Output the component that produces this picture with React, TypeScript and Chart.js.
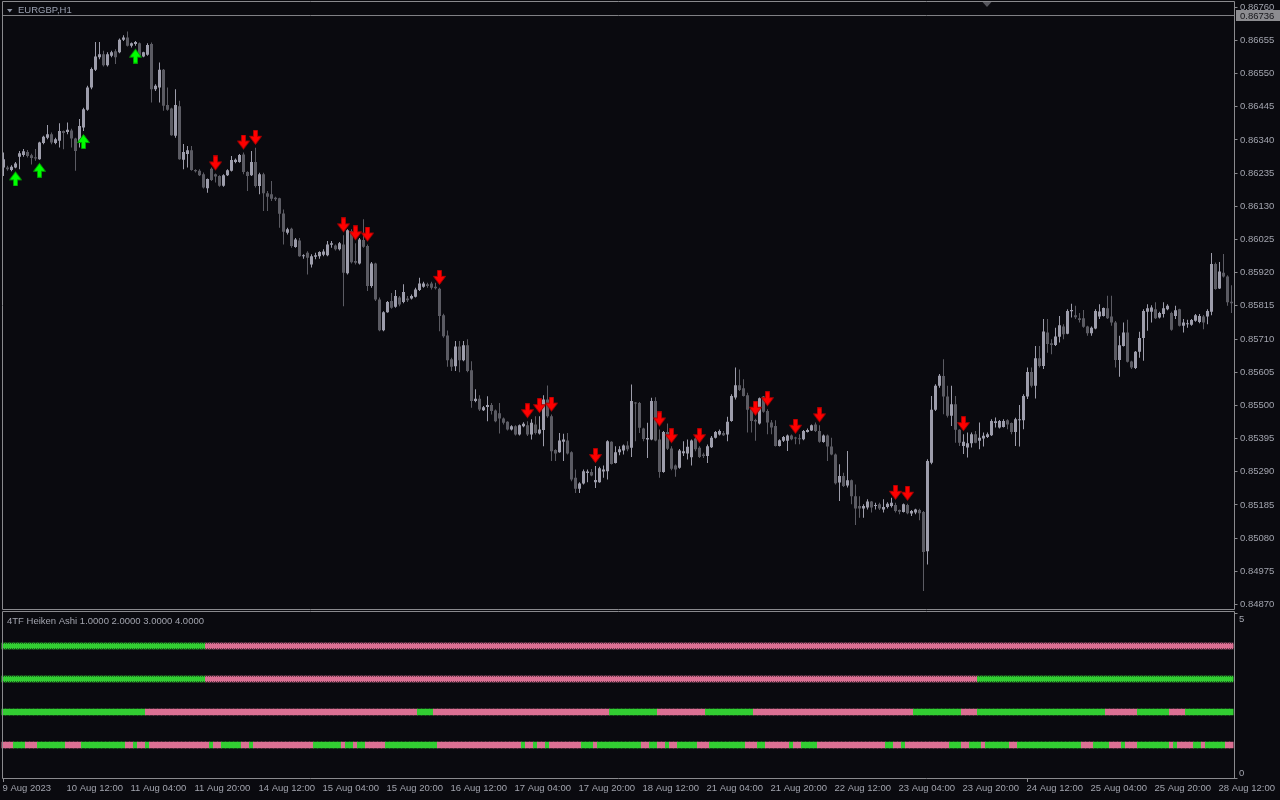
import React, { useEffect, useRef } from 'react';
import { Chart, registerables } from 'chart.js';

Chart.register(...registerables);

// ---------- DATA (prices in points, 1 point = 0.00001) ----------
const opens = [
  86253, 86253, 86245, 86253, 86287, 86292, 86302, 86291, 86285, 86279,
  86330, 86347, 86358, 86330, 86337, 86368, 86365, 86370, 86344, 86332,
  86379, 86435, 86506, 86562, 86601, 86611, 86576, 86606, 86620, 86617,
  86657, 86664, 86638, 86643, 86646, 86604, 86609, 86643, 86500, 86506,
  86562, 86450, 86439, 86353, 86446, 86277, 86295, 86307, 86245, 86242,
  86231, 86187, 86249, 86231, 86226, 86195, 86228, 86242, 86270, 86270,
  86294, 86238, 86228, 86270, 86194, 86231, 86171, 86168, 86157, 86155,
  86107, 86046, 86059, 86001, 86022, 85972, 85983, 85946, 85970, 85972,
  85977, 85975, 86008, 86006, 85994, 86009, 85918, 86052, 85957, 85949,
  86023, 86004, 85878, 85949, 85835, 85738, 85795, 85830, 85812, 85841,
  85827, 85838, 85838, 85844, 85865, 85875, 85883, 85886, 85875, 85869,
  85785, 85721, 85646, 85624, 85686, 85643, 85690, 85611, 85514, 85521,
  85485, 85495, 85501, 85484, 85475, 85459, 85448, 85424, 85434, 85408,
  85434, 85437, 85408, 85440, 85411, 85422, 85519, 85466, 85359, 85352,
  85385, 85389, 85352, 85271, 85236, 85253, 85286, 85289, 85257, 85257,
  85291, 85292, 85385, 85318, 85352, 85357, 85373, 85366, 85508, 85508,
  85427, 85392, 85392, 85514, 85392, 85289, 85416, 85364, 85310, 85303,
  85349, 85348, 85336, 85395, 85366, 85345, 85340, 85368, 85398, 85408,
  85413, 85408, 85451, 85525, 85564, 85554, 85532, 85488, 85454, 85443,
  85528, 85482, 85446, 85435, 85372, 85388, 85388, 85405, 85398, 85396,
  85393, 85416, 85421, 85440, 85419, 85384, 85405, 85370, 85345, 85256,
  85277, 85247, 85263, 85213, 85182, 85174, 85177, 85196, 85182, 85187,
  85171, 85179, 85182, 85185, 85169, 85163, 85185, 85158, 85161, 85169,
  85163, 85039, 85319, 85486, 85562, 85593, 85528, 85467, 85504, 85423,
  85372, 85367, 85380, 85409, 85388, 85395, 85400, 85406, 85444, 85430,
  85432, 85453, 85444, 85416, 85453, 85453, 85528, 85606, 85562, 85649,
  85625, 85731, 85697, 85691, 85717, 85750, 85727, 85798, 85785, 85776,
  85776, 85750, 85728, 85743, 85781, 85783, 85807, 85781, 85762, 85644,
  85688, 85731, 85639, 85618, 85670, 85713, 85796, 85796, 85804, 85778,
  85789, 85804, 85792, 85783, 85804, 85752, 85757, 85755, 85768, 85764,
  85781, 85781, 85796, 85947, 85870, 85920, 85908, 85828,
];
const highs = [
  86300, 86258, 86260, 86270, 86305, 86311, 86308, 86296, 86311, 86334,
  86353, 86387, 86363, 86347, 86393, 86370, 86395, 86375, 86347, 86406,
  86442, 86511, 86569, 86650, 86650, 86622, 86617, 86622, 86627, 86661,
  86671, 86683, 86648, 86653, 86648, 86619, 86646, 86648, 86516, 86585,
  86564, 86506, 86442, 86500, 86464, 86327, 86321, 86321, 86247, 86247,
  86237, 86218, 86253, 86234, 86228, 86231, 86247, 86289, 86281, 86295,
  86300, 86241, 86305, 86315, 86236, 86236, 86178, 86210, 86160, 86157,
  86120, 86062, 86062, 86030, 86030, 85978, 85988, 85978, 85983, 85988,
  85994, 86020, 86020, 86009, 86017, 86038, 86057, 86057, 86013, 86030,
  86089, 86009, 85954, 85951, 85841, 85798, 85830, 85856, 85865, 85846,
  85883, 85846, 85851, 85872, 85904, 85891, 85888, 85891, 85888, 85872,
  85790, 85737, 85651, 85704, 85704, 85704, 85709, 85640, 85551, 85532,
  85498, 85529, 85508, 85487, 85508, 85462, 85450, 85437, 85437, 85440,
  85447, 85450, 85456, 85466, 85466, 85532, 85563, 85471, 85361, 85413,
  85410, 85413, 85355, 85297, 85257, 85297, 85297, 85299, 85308, 85306,
  85310, 85390, 85387, 85371, 85371, 85376, 85387, 85566, 85511, 85511,
  85429, 85445, 85524, 85526, 85424, 85419, 85443, 85371, 85313, 85362,
  85387, 85392, 85392, 85402, 85371, 85350, 85376, 85403, 85419, 85424,
  85419, 85464, 85535, 85620, 85614, 85583, 85540, 85490, 85458, 85525,
  85530, 85488, 85454, 85453, 85393, 85403, 85408, 85408, 85401, 85409,
  85422, 85427, 85440, 85446, 85437, 85408, 85408, 85398, 85348, 85314,
  85287, 85356, 85266, 85250, 85213, 85187, 85203, 85198, 85192, 85192,
  85203, 85194, 85208, 85192, 85171, 85190, 85189, 85169, 85173, 85173,
  85166, 85330, 85530, 85567, 85599, 85646, 85562, 85562, 85530, 85425,
  85409, 85414, 85414, 85419, 85446, 85414, 85414, 85456, 85462, 85454,
  85456, 85456, 85446, 85461, 85501, 85535, 85620, 85620, 85688, 85688,
  85773, 85773, 85709, 85746, 85783, 85757, 85804, 85822, 85815, 85792,
  85802, 85752, 85750, 85804, 85820, 85810, 85847, 85847, 85767, 85720,
  85762, 85771, 85641, 85672, 85733, 85804, 85820, 85817, 85826, 85796,
  85826, 85820, 85796, 85815, 85806, 85773, 85771, 85773, 85789, 85789,
  85786, 85804, 85982, 85952, 85954, 85979, 85912, 85880,
];
const lows = [
  86226, 86242, 86241, 86250, 86247, 86287, 86284, 86262, 86274, 86277,
  86326, 86342, 86326, 86326, 86316, 86310, 86358, 86316, 86242, 86316,
  86368, 86432, 86500, 86558, 86595, 86572, 86572, 86601, 86580, 86614,
  86653, 86635, 86632, 86638, 86604, 86601, 86606, 86458, 86495, 86458,
  86432, 86432, 86353, 86347, 86277, 86247, 86253, 86242, 86237, 86226,
  86186, 86173, 86210, 86205, 86192, 86192, 86226, 86240, 86266, 86268,
  86231, 86178, 86226, 86189, 86168, 86115, 86115, 86147, 86147, 86062,
  86009, 86041, 85999, 85999, 85970, 85964, 85914, 85936, 85962, 85964,
  85972, 85972, 85999, 85990, 85990, 85814, 85914, 85949, 85946, 85946,
  85999, 85862, 85872, 85830, 85735, 85735, 85793, 85806, 85809, 85814,
  85823, 85827, 85835, 85841, 85862, 85872, 85872, 85867, 85867, 85735,
  85714, 85622, 85609, 85609, 85605, 85640, 85605, 85493, 85510, 85482,
  85482, 85450, 85471, 85447, 85411, 85440, 85421, 85421, 85405, 85405,
  85431, 85403, 85392, 85408, 85408, 85371, 85461, 85324, 85324, 85350,
  85324, 85345, 85260, 85223, 85223, 85250, 85257, 85276, 85239, 85255,
  85271, 85266, 85313, 85316, 85342, 85345, 85355, 85337, 85387, 85413,
  85387, 85334, 85390, 85387, 85271, 85287, 85359, 85295, 85274, 85300,
  85340, 85329, 85310, 85355, 85334, 85334, 85318, 85365, 85395, 85405,
  85403, 85387, 85448, 85519, 85546, 85528, 85414, 85414, 85388, 85440,
  85477, 85409, 85409, 85370, 85370, 85384, 85356, 85390, 85377, 85377,
  85390, 85414, 85419, 85416, 85382, 85382, 85324, 85342, 85250, 85198,
  85242, 85240, 85187, 85122, 85145, 85145, 85171, 85161, 85171, 85169,
  85161, 85174, 85177, 85161, 85156, 85161, 85156, 85150, 85156, 85137,
  84913, 84997, 85314, 85482, 85556, 85472, 85462, 85435, 85382, 85372,
  85346, 85335, 85367, 85380, 85361, 85370, 85397, 85403, 85430, 85427,
  85430, 85425, 85409, 85372, 85370, 85425, 85520, 85557, 85522, 85620,
  85615, 85667, 85662, 85688, 85699, 85709, 85725, 85778, 85773, 85762,
  85746, 85720, 85720, 85741, 85773, 85781, 85773, 85752, 85620, 85591,
  85686, 85636, 85615, 85615, 85651, 85641, 85736, 85762, 85773, 85775,
  85778, 85801, 85736, 85773, 85750, 85731, 85746, 85752, 85765, 85760,
  85741, 85757, 85785, 85866, 85868, 85905, 85815, 85792,
];
const closes = [
  86279, 86247, 86255, 86265, 86298, 86304, 86289, 86283, 86281, 86332,
  86350, 86358, 86332, 86342, 86368, 86362, 86372, 86344, 86305, 86384,
  86437, 86506, 86564, 86604, 86611, 86576, 86611, 86617, 86601, 86657,
  86664, 86638, 86646, 86650, 86606, 86617, 86640, 86500, 86511, 86562,
  86448, 86435, 86355, 86450, 86279, 86302, 86307, 86245, 86241, 86228,
  86189, 86216, 86213, 86224, 86195, 86228, 86244, 86276, 86277, 86292,
  86238, 86226, 86270, 86194, 86231, 86171, 86160, 86154, 86152, 86106,
  86049, 86057, 86004, 86025, 85972, 85975, 85967, 85972, 85975, 85985,
  85987, 86009, 86013, 85994, 86013, 85920, 86054, 85953, 85951, 86025,
  86002, 85878, 85949, 85835, 85738, 85795, 85827, 85809, 85846, 85819,
  85859, 85833, 85846, 85867, 85886, 85886, 85878, 85872, 85871, 85783,
  85719, 85643, 85622, 85686, 85643, 85690, 85609, 85514, 85521, 85487,
  85494, 85501, 85482, 85450, 85459, 85445, 85424, 85434, 85408, 85437,
  85442, 85408, 85445, 85413, 85424, 85519, 85466, 85355, 85348, 85389,
  85392, 85348, 85266, 85236, 85253, 85292, 85291, 85278, 85264, 85301,
  85297, 85387, 85315, 85352, 85361, 85373, 85361, 85514, 85506, 85429,
  85394, 85397, 85514, 85389, 85289, 85416, 85363, 85300, 85297, 85357,
  85355, 85369, 85389, 85361, 85337, 85340, 85371, 85398, 85416, 85419,
  85406, 85448, 85530, 85564, 85549, 85530, 85486, 85451, 85449, 85523,
  85480, 85446, 85430, 85372, 85390, 85400, 85405, 85393, 85395, 85393,
  85419, 85422, 85437, 85419, 85385, 85405, 85370, 85345, 85254, 85277,
  85245, 85263, 85213, 85174, 85174, 85182, 85196, 85177, 85185, 85174,
  85179, 85189, 85192, 85166, 85164, 85187, 85159, 85166, 85171, 85159,
  85036, 85324, 85486, 85562, 85594, 85528, 85467, 85504, 85423, 85382,
  85385, 85380, 85409, 85382, 85398, 85404, 85409, 85451, 85450, 85451,
  85451, 85440, 85416, 85456, 85456, 85530, 85606, 85562, 85649, 85625,
  85734, 85694, 85691, 85718, 85754, 85725, 85799, 85802, 85779, 85770,
  85749, 85728, 85746, 85799, 85797, 85808, 85776, 85762, 85644, 85690,
  85731, 85638, 85620, 85670, 85713, 85799, 85807, 85810, 85776, 85792,
  85807, 85815, 85739, 85801, 85752, 85762, 85760, 85770, 85785, 85783,
  85762, 85799, 85947, 85868, 85924, 85908, 85826, 85823,
];

// time axis labels, one every 16 hourly bars
const timeLabels = [
  '9 Aug 2023', '10 Aug 12:00', '11 Aug 04:00', '11 Aug 20:00', '14 Aug 12:00',
  '15 Aug 04:00', '15 Aug 20:00', '16 Aug 12:00', '17 Aug 04:00', '17 Aug 20:00',
  '18 Aug 12:00', '21 Aug 04:00', '21 Aug 20:00', '22 Aug 12:00', '23 Aug 04:00',
  '23 Aug 20:00', '24 Aug 12:00', '25 Aug 04:00', '25 Aug 20:00', '28 Aug 12:00',
];
const LABEL_EVERY = 16;

const priceTicks = [
  86760, 86655, 86550, 86445, 86340, 86235, 86130, 86025, 85920, 85815,
  85710, 85605, 85500, 85395, 85290, 85185, 85080, 84975, 84870,
];
const bidPrice = 86736;
const Y_MIN = 84856;
const Y_MAX = 86773;

const upArrowBars = [3, 9, 20, 33];
const downArrowBars = [53, 60, 63, 85, 88, 91, 109, 131, 134, 137, 148, 164, 167, 174, 188, 191, 198, 204, 223, 226, 240];

// 4TF Heiken Ashi rows: level and colour runs [startBar, g|p]
const rowLevels = [4, 3, 2, 1];
const rowRunsA = [[0, 'g'], [51, 'p']];
const rowRunsB = [[0, 'g'], [51, 'p'], [244, 'g']];
const rowRunsC = [[0, 'g'], [36, 'p'], [104, 'g'], [108, 'p'], [152, 'g'], [164, 'p'], [176, 'g'], [188, 'p'], [228, 'g'], [240, 'p'], [244, 'g'], [276, 'p'], [284, 'g'], [292, 'p'], [296, 'g']];
const rowRunsD = [[0, 'p'], [3, 'g'], [6, 'p'], [9, 'g'], [16, 'p'], [20, 'g'], [31, 'p'], [33, 'g'], [34, 'p'], [36, 'g'], [37, 'p'], [52, 'g'], [53, 'p'], [55, 'g'], [60, 'p'], [62, 'g'], [63, 'p'], [78, 'g'], [85, 'p'], [86, 'g'], [88, 'p'], [89, 'g'], [91, 'p'], [96, 'g'], [109, 'p'], [130, 'g'], [131, 'p'], [133, 'g'], [134, 'p'], [136, 'g'], [137, 'p'], [145, 'g'], [148, 'p'], [149, 'g'], [160, 'p'], [162, 'g'], [164, 'p'], [166, 'g'], [167, 'p'], [169, 'g'], [174, 'p'], [177, 'g'], [186, 'p'], [189, 'g'], [191, 'p'], [197, 'g'], [198, 'p'], [200, 'g'], [204, 'p'], [221, 'g'], [223, 'p'], [225, 'g'], [226, 'p'], [237, 'g'], [240, 'p'], [242, 'g'], [245, 'p'], [246, 'g'], [252, 'p'], [254, 'g'], [270, 'p'], [273, 'g'], [277, 'p'], [280, 'g'], [281, 'p'], [284, 'g'], [292, 'p'], [293, 'g'], [294, 'p'], [298, 'g'], [300, 'p'], [301, 'g'], [306, 'p']];

// ---------- STYLE ----------
const BG = '#0a0a0f';
const FRAME = '#8a8a8e';
const TEXT = '#a2a4ae';
const BULL = '#9d9dab';
const BEAR = '#5b5b63';
const GREEN = '#32cd32';
const PINK = '#db7093';
const FONT_FAMILY = '"Liberation Sans", Arial, sans-serif';
const FONT_SIZE = 9.5;
const FONT_CSS = `${FONT_SIZE}px ${FONT_FAMILY}`;

function expandRuns(runs: any[], n: number): string[] {
  const out: string[] = new Array(n);
  for (let r = 0; r < runs.length; r++) {
    const start = runs[r][0];
    const end = r + 1 < runs.length ? runs[r + 1][0] : n;
    const col = runs[r][1] === 'g' ? GREEN : PINK;
    for (let i = start; i < end; i++) out[i] = col;
  }
  return out;
}

// arrow glyph image; the glyph sits 3px above (down) or below (up) the image centre
function makeArrow(fill: string, edge: string, down: boolean) {
  const c = document.createElement('canvas');
  c.width = 13;
  c.height = 36;
  const g = c.getContext('2d') as CanvasRenderingContext2D;
  g.fillStyle = fill;
  g.strokeStyle = edge;
  g.lineWidth = 1;
  g.beginPath();
  if (down) {
    // spans y 0.5 .. 14.5 (centre at 18)
    g.moveTo(4.5, 0.5); g.lineTo(8.5, 0.5); g.lineTo(8.5, 6.5); g.lineTo(12.5, 6.5);
    g.lineTo(6.5, 14.5); g.lineTo(0.5, 6.5); g.lineTo(4.5, 6.5);
  } else {
    // spans y 21.5 .. 35.5
    g.moveTo(6.5, 21.5); g.lineTo(12.5, 29.5); g.lineTo(8.5, 29.5); g.lineTo(8.5, 35.5);
    g.lineTo(4.5, 35.5); g.lineTo(4.5, 29.5); g.lineTo(0.5, 29.5);
  }
  g.closePath();
  g.fill();
  g.stroke();
  return c;
}

function fixVertical(width: number) {
  return (s: any) => {
    s.width = width;
    s.paddingTop = 0;
    s.paddingBottom = 0;
    s.paddingLeft = 0;
    s.paddingRight = 0;
  };
}

const mainOverlay = {
  id: 'mainOverlay',
  beforeDraw(chart: any) {
    const { ctx, width, height } = chart;
    ctx.save();
    ctx.fillStyle = BG;
    ctx.fillRect(0, 0, width, height);
    ctx.restore();
  },
  afterDraw(chart: any) {
    const { ctx } = chart;
    const y = chart.scales.y;
    ctx.save();
    // bid line
    const by = Math.round(y.getPixelForValue(bidPrice)) + 0.5;
    ctx.strokeStyle = '#808084';
    ctx.lineWidth = 1;
    ctx.beginPath();
    ctx.moveTo(2.5, by);
    ctx.lineTo(1234.5, by);
    ctx.stroke();
    // frame
    ctx.strokeStyle = FRAME;
    ctx.beginPath();
    ctx.moveTo(2.5, 609.5);
    ctx.lineTo(2.5, 1.5);
    ctx.lineTo(1234.5, 1.5);
    ctx.lineTo(1234.5, 609.5);
    ctx.lineTo(2.5, 609.5);
    ctx.stroke();
    // bid label box
    ctx.fillStyle = '#8c8c90';
    ctx.fillRect(1236, by - 5.5, 44, 11);
    ctx.fillStyle = '#16161a';
    ctx.font = FONT_CSS;
    ctx.textBaseline = 'middle';
    ctx.textAlign = 'left';
    ctx.fillText((bidPrice / 100000).toFixed(5), 1240, by + 0.5);
    // header
    ctx.fillStyle = '#8e94a4';
    ctx.beginPath();
    ctx.moveTo(7, 9);
    ctx.lineTo(12.5, 9);
    ctx.lineTo(9.75, 12.5);
    ctx.closePath();
    ctx.fill();
    ctx.fillStyle = '#9aa0b0';
    ctx.fillText('EURGBP,H1', 18, 10.5);
    // chart shift marker
    ctx.fillStyle = '#55555c';
    ctx.beginPath();
    ctx.moveTo(982.5, 2);
    ctx.lineTo(991.5, 2);
    ctx.lineTo(987, 7);
    ctx.closePath();
    ctx.fill();
    ctx.restore();
  },
};

const subOverlay = {
  id: 'subOverlay',
  beforeDraw(chart: any) {
    const { ctx, width, height } = chart;
    ctx.save();
    ctx.fillStyle = BG;
    ctx.fillRect(0, 0, width, height);
    ctx.restore();
  },
  afterDatasetsDraw(chart: any) {
    const { ctx } = chart;
    const y = chart.scales.y;
    ctx.save();
    ctx.strokeStyle = 'rgba(10,10,15,0.55)';
    ctx.lineWidth = 1;
    ctx.setLineDash([1, 1]);
    [rowLevels[0], rowLevels[1]].forEach((lvl) => {
      const t = Math.round(y.getPixelForValue(lvl + 0.1)) + 0.5;
      const b = Math.round(y.getPixelForValue(lvl - 0.1)) - 0.5;
      ctx.beginPath();
      ctx.moveTo(3, t); ctx.lineTo(1234, t);
      ctx.moveTo(3, b); ctx.lineTo(1234, b);
      ctx.stroke();
    });
    ctx.restore();
  },
  afterDraw(chart: any) {
    const { ctx } = chart;
    const y = chart.scales.y;
    ctx.save();
    ctx.strokeStyle = FRAME;
    ctx.lineWidth = 1;
    ctx.beginPath();
    ctx.moveTo(2.5, 168.5);
    ctx.lineTo(2.5, 1.5);
    ctx.lineTo(1234.5, 1.5);
    ctx.lineTo(1234.5, 168.5);
    ctx.lineTo(2.5, 168.5);
    ctx.stroke();
    ctx.font = FONT_CSS;
    ctx.fillStyle = TEXT;
    ctx.textBaseline = 'middle';
    ctx.textAlign = 'left';
    ctx.fillText('4TF Heiken Ashi 1.0000 2.0000 3.0000 4.0000', 7, 11);
    ctx.fillText('5', 1239, y.getPixelForValue(5) + 6);
    ctx.fillText('0', 1239, y.getPixelForValue(0) - 5);
    ctx.restore();
  },
};

export default function App() {
  const mainRef = useRef<HTMLCanvasElement>(null);
  const subRef = useRef<HTMLCanvasElement>(null);

  useEffect(() => {
    const n = opens.length;
    const labels = opens.map((_, i) => String(i));
    const candleColors = opens.map((o, i) => (closes[i] >= o ? BULL : BEAR));
    const downArrow = makeArrow('#ff0000', '#b00000', true);
    const upArrow = makeArrow('#00ff00', '#00a000', false);
    const downData = labels.map((_, i) => (downArrowBars.includes(i) ? highs[i] : null));
    const upData = labels.map((_, i) => (upArrowBars.includes(i) ? lows[i] : null));

    const mainChart = new Chart(mainRef.current as HTMLCanvasElement, {
      type: 'bar',
      data: {
        labels,
        datasets: [
          {
            type: 'bar',
            data: lows.map((l, i) => [l, highs[i]]),
            backgroundColor: candleColors,
            barThickness: 1,
            minBarLength: 1,
            grouped: false,
            inflateAmount: 0,
            borderWidth: 0,
            order: 3,
          } as any,
          {
            type: 'bar',
            data: opens.map((o, i) => [o, closes[i]]),
            backgroundColor: candleColors,
            barThickness: 3,
            minBarLength: 1,
            grouped: false,
            inflateAmount: 0,
            borderWidth: 0,
            order: 2,
          } as any,
          {
            type: 'line',
            data: downData,
            showLine: false,
            pointStyle: downArrow,
            pointRadius: 6,
            pointHoverRadius: 6,
            clip: false,
            order: 1,
          } as any,
          {
            type: 'line',
            data: upData,
            showLine: false,
            pointStyle: upArrow,
            pointRadius: 6,
            pointHoverRadius: 6,
            clip: false,
            order: 1,
          } as any,
        ],
      },
      options: {
        responsive: false,
        maintainAspectRatio: false,
        animation: false,
        devicePixelRatio: 1,
        events: [],
        layout: { autoPadding: false, padding: { left: 1.5, right: 0, top: 3, bottom: 3 } },
        plugins: { legend: { display: false }, tooltip: { enabled: false } },
        scales: {
          x: { type: 'category', display: false, offset: true },
          y: {
            type: 'linear',
            position: 'right',
            min: Y_MIN,
            max: Y_MAX,
            bounds: 'data',
            afterFit: fixVertical(46.5),
            afterBuildTicks: (s: any) => { s.ticks = priceTicks.map((v) => ({ value: v })); },
            ticks: {
              autoSkip: false,
              padding: 2.5,
              color: TEXT,
              font: { family: FONT_FAMILY, size: FONT_SIZE },
              callback: (v: any) => (Number(v) / 100000).toFixed(5),
            },
            grid: { drawOnChartArea: false, tickLength: 4, color: FRAME },
            border: { display: false },
          },
        },
      } as any,
      plugins: [mainOverlay],
    });

    const rowColors = [rowRunsA, rowRunsB, rowRunsC, rowRunsD].map((r) => expandRuns(r, n));
    const subChart = new Chart(subRef.current as HTMLCanvasElement, {
      type: 'bar',
      data: {
        labels,
        datasets: rowLevels.map((lvl, r) => ({
          type: 'bar',
          data: labels.map(() => [lvl - 0.1, lvl + 0.1]),
          backgroundColor: rowColors[r],
          barThickness: 5,
          grouped: false,
          inflateAmount: 0,
          borderWidth: 0,
        })) as any,
      },
      options: {
        responsive: false,
        maintainAspectRatio: false,
        animation: false,
        devicePixelRatio: 1,
        events: [],
        layout: { autoPadding: false, padding: { left: 1.5, right: 0, top: 3, bottom: 0 } },
        plugins: { legend: { display: false }, tooltip: { enabled: false } },
        scales: {
          x: {
            type: 'category',
            offset: true,
            afterFit: (s: any) => {
              s.height = 22;
              s.paddingLeft = 0;
              s.paddingRight = 0;
              s.paddingTop = 0;
              s.paddingBottom = 0;
            },
            grid: {
              offset: false,
              drawOnChartArea: false,
              tickLength: 4,
              color: (c: any) => (c.index % LABEL_EVERY === 0 ? FRAME : 'rgba(0,0,0,0)'),
            },
            border: { display: false },
            ticks: {
              autoSkip: false,
              maxRotation: 0,
              minRotation: 0,
              align: 'start',
              padding: 1,
              labelOffset: -1,
              color: TEXT,
              font: { family: FONT_FAMILY, size: FONT_SIZE },
              callback: (_v: any, i: number) => (i % LABEL_EVERY === 0 ? timeLabels[i / LABEL_EVERY] : null),
            },
          },
          y: {
            type: 'linear',
            position: 'right',
            min: 0,
            max: 5,
            afterFit: fixVertical(46.5),
            afterBuildTicks: (s: any) => { s.ticks = [{ value: 0 }, { value: 5 }]; },
            ticks: { callback: () => '', padding: 0 },
            grid: { drawOnChartArea: false, tickLength: 4, color: FRAME },
            border: { display: false },
          },
        },
      } as any,
      plugins: [subOverlay],
    });

    return () => {
      mainChart.destroy();
      subChart.destroy();
    };
  }, []);

  return (
    <div style={{ position: 'fixed', left: 0, top: 0, width: 1280, height: 800, background: BG, overflow: 'hidden' }}>
      <canvas ref={mainRef} width={1280} height={612} style={{ position: 'absolute', left: 0, top: 0, width: 1280, height: 612 }} />
      <canvas ref={subRef} width={1280} height={190} style={{ position: 'absolute', left: 0, top: 610, width: 1280, height: 190 }} />
    </div>
  );
}
